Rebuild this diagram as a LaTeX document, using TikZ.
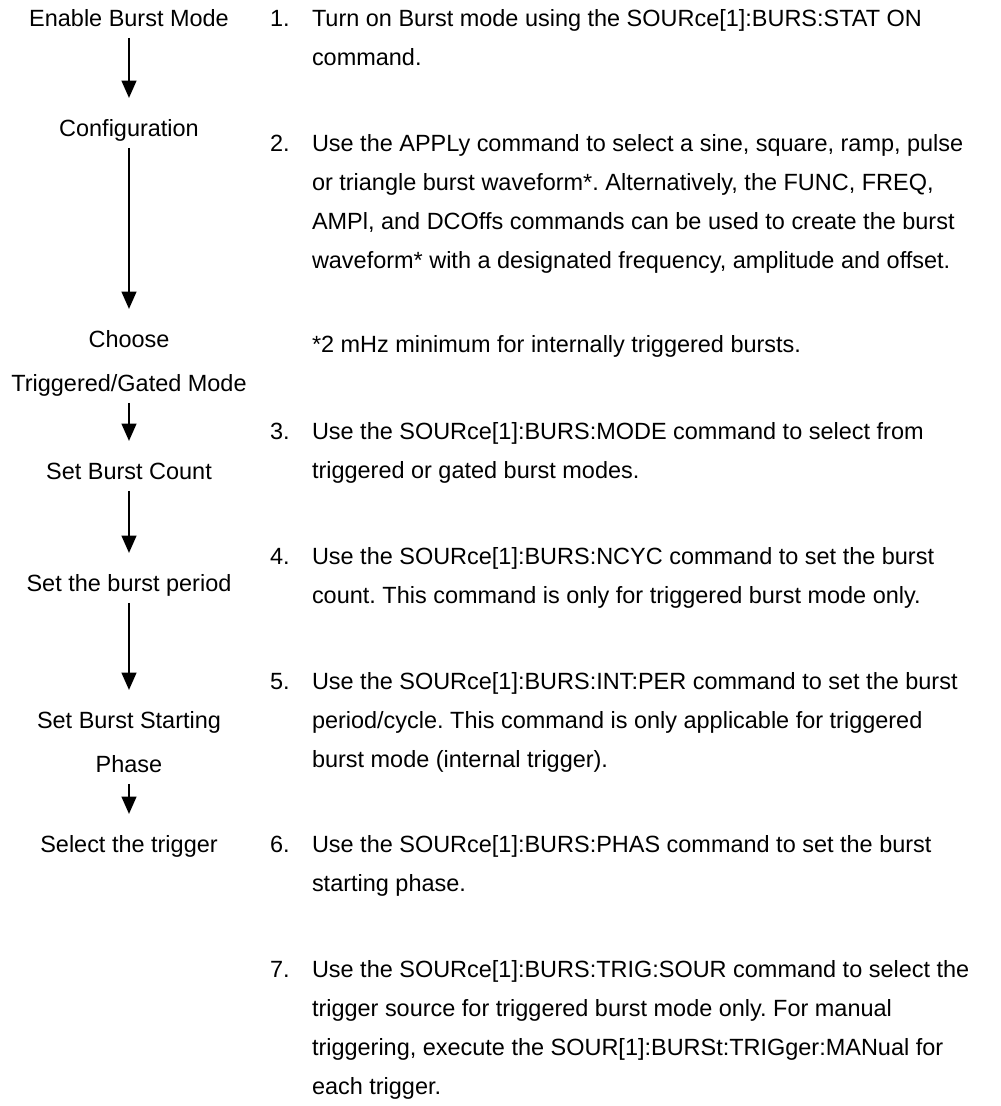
\documentclass[tikz,border=0pt]{standalone}
\usepackage{fontspec}
\setmainfont{Liberation Sans}
\usetikzlibrary{arrows.meta}
\frenchspacing
\begin{document}
\begin{tikzpicture}[x=0.75pt,y=-0.75pt,
  every node/.style={inner sep=0pt, outer sep=0pt, font=\fontsize{17.6}{29.25}\selectfont\frenchspacing},
  flow/.style={anchor=base, text height=28.9pt, text depth=8.6pt},
  num/.style={anchor=base west},
  para/.style={anchor=north west, align=left},
  arr/.style={line width=1.7pt, -{Triangle[width=11pt,length=13pt]}}]
\useasboundingbox (0,0) rectangle (1000,1106);
% left column flow
\node[flow] (enable) at (129,26.5) {Enable Burst Mode};
\node[flow] (config) at (129,136.5) {Configuration};
\node[flow] (choose) at (129,347.5) {Choose};
\node[flow] (trig) at (129,391.5) {Triggered/Gated Mode};
\node[flow] (count) at (129,479.5) {Set Burst Count};
\node[flow] (period) at (129,591.5) {Set the burst period};
\node[flow] (start) at (129,728.5) {Set Burst Starting};
\node[flow] (phase) at (129,772.5) {Phase};
\node[flow] (select) at (129,852.5) {Select the trigger};
\draw[arr] (enable) -- (config);
\draw[arr] (config) -- (choose);
\draw[arr] (trig) -- (count);
\draw[arr] (count) -- (period);
\draw[arr] (period) -- (start);
\draw[arr] (phase) -- (select);
% right column
\node[num] (n1) at (270,26.5) {1.};
\node[para] (p1) at (312,5.2) {\rule{0pt}{16pt}Turn on Burst mode using the SOURce[1]:BURS:STAT ON\\command.};
\node[num] (n2) at (270,151.5) {2.};
\node[para] (p2) at (312,130.2) {\rule{0pt}{16pt}Use the APPLy command to select a sine, square, ramp, pulse\\or triangle burst waveform*. Alternatively, the FUNC, FREQ,\\AMPl, and DCOffs commands can be used to create the burst\\waveform* with a designated frequency, amplitude and offset.};
\node[para] (star) at (312,331.2) {\rule{0pt}{16pt}*2 mHz minimum for internally triggered bursts.};
\node[num] (n3) at (270,439.5) {3.};
\node[para] (p3) at (312,418.2) {\rule{0pt}{16pt}Use the SOURce[1]:BURS:MODE command to select from\\triggered or gated burst modes.};
\node[num] (n4) at (270,564.5) {4.};
\node[para] (p4) at (312,543.2) {\rule{0pt}{16pt}Use the SOURce[1]:BURS:NCYC command to set the burst\\count. This command is only for triggered burst mode only.};
\node[num] (n5) at (270,689.5) {5.};
\node[para] (p5) at (312,668.2) {\rule{0pt}{16pt}Use the SOURce[1]:BURS:INT:PER command to set the burst\\period/cycle. This command is only applicable for triggered\\burst mode (internal trigger).};
\node[num] (n6) at (270,852.5) {6.};
\node[para] (p6) at (312,831.2) {\rule{0pt}{16pt}Use the SOURce[1]:BURS:PHAS command to set the burst\\starting phase.};
\node[num] (n7) at (270,977.5) {7.};
\node[para] (p7) at (312,956.2) {\rule{0pt}{16pt}Use the SOURce[1]:BURS:TRIG:SOUR command to select the\\trigger source for triggered burst mode only. For manual\\triggering, execute the SOUR[1]:BURSt:TRIGger:MANual for\\each trigger.};
\end{tikzpicture}
\end{document}
